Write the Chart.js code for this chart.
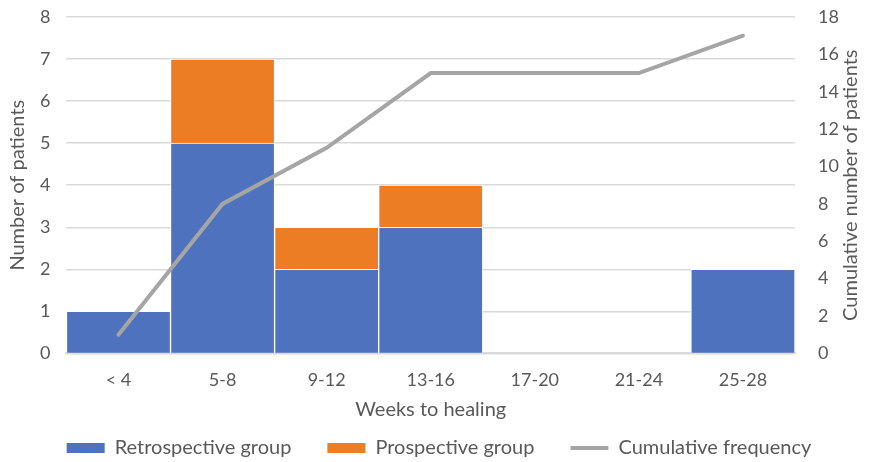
<!DOCTYPE html>
<html>
<head>
<meta charset="utf-8">
<script src="https://cdn.jsdelivr.net/npm/chart.js@4.4.1/dist/chart.umd.min.js"></script>
<style>
  html, body { margin: 0; padding: 0; background: #fff; }
  #wrap { width: 872px; height: 462px; }
</style>
</head>
<body>
<div id="wrap"><canvas id="chart" width="872" height="462"></canvas></div>
<script>
const weeks = ['< 4', '5-8', '9-12', '13-16', '17-20', '21-24', '25-28'];
const retrospective = [1, 5, 2, 3, 0, 0, 2];
const prospective = [0, 2, 1, 1, 0, 0, 0];
const cumulative = [1, 8, 11, 15, 15, 15, 17];

const textColor = '#595959';
const gridColor = '#d9d9d9';
const fontFamily = 'Lato, "Open Sans", sans-serif';

// right axis title reads bottom-to-top like the left one
const rightTitle = {
    id: 'rightTitle',
    afterDraw(chart) {
        const area = chart.chartArea;
        const c = chart.ctx;
        c.save();
        c.translate(851, (area.top + area.bottom) / 2);
        c.rotate(-Math.PI / 2);
        c.fillStyle = textColor;
        c.font = '20px ' + fontFamily;
        c.textAlign = 'center';
        c.textBaseline = 'middle';
        c.fillText('Cumulative number of patients', 0, 0);
        c.restore();
    },
};

const ctx = document.getElementById('chart').getContext('2d');
new Chart(ctx, {
    type: 'bar',
    data: {
        labels: weeks,
        datasets: [
            {
                type: 'line',
                label: 'Cumulative frequency',
                data: cumulative,
                yAxisID: 'y1',
                borderColor: '#a5a5a5',
                backgroundColor: '#a5a5a5',
                borderWidth: 4,
                borderCapStyle: 'round',
                pointRadius: 0,
                pointStyle: 'line',
                tension: 0,
                order: 0,
            },
            {
                label: 'Retrospective group',
                data: retrospective,
                backgroundColor: '#4f72bf',
                borderColor: '#ffffff',
                borderWidth: 1,
                pointStyle: 'rect',
                stack: 's',
                order: 1,
            },
            {
                label: 'Prospective group',
                data: prospective,
                backgroundColor: '#ed7d24',
                borderColor: '#ffffff',
                borderWidth: 1,
                pointStyle: 'rect',
                stack: 's',
                order: 1,
            },
        ],
    },
    options: {
        responsive: false,
        animation: false,
        layout: { padding: { left: 6, right: 0, top: 17, bottom: -6 } },
        datasets: {
            bar: { categoryPercentage: 1, barPercentage: 1 },
        },
        plugins: {
            tooltip: { enabled: false },
            legend: {
                position: 'bottom',
                align: 'center',
                labels: {
                    color: textColor,
                    font: { family: fontFamily, size: 20 },
                    usePointStyle: true,
                    pointStyleWidth: 38,
                    boxHeight: 10,
                    padding: 36,
                    sort: (a, b) => (a.datasetIndex === 0) - (b.datasetIndex === 0),
                    generateLabels: (chart) => {
                        const items = Chart.defaults.plugins.legend.labels.generateLabels(chart);
                        items.forEach((it) => {
                            if (it.datasetIndex !== 0) {
                                it.lineWidth = 0;
                                it.strokeStyle = it.fillStyle;
                            }
                        });
                        return items;
                    },
                },
            },
        },
        scales: {
            x: {
                stacked: true,
                grid: { display: false },
                border: { display: true, color: gridColor, width: 2 },
                ticks: { color: textColor, font: { family: fontFamily, size: 18 }, padding: 8 },
                title: {
                    display: true,
                    text: 'Weeks to healing',
                    color: textColor,
                    font: { family: fontFamily, size: 20 },
                    padding: { top: -1, bottom: -20 },
                },
            },
            y: {
                stacked: true,
                min: 0,
                max: 8,
                ticks: { stepSize: 1, color: textColor, font: { family: fontFamily, size: 18 }, padding: 16 },
                grid: { color: gridColor, lineWidth: 1.5, drawTicks: false },
                border: { display: false },
                title: {
                    display: true,
                    text: 'Number of patients',
                    color: textColor,
                    font: { family: fontFamily, size: 20 },
                    padding: { top: 0, bottom: -6 },
                },
                afterFit: (scale) => {
                    scale.paddingTop = 0;
                },
            },
            y1: {
                position: 'right',
                min: 0,
                max: 18,
                ticks: { stepSize: 2, color: textColor, font: { family: fontFamily, size: 18 }, padding: 23 },
                grid: { display: false, drawTicks: false },
                border: { display: false },
                afterFit: (scale) => {
                    scale.width = 77;
                    scale.paddingTop = 0;
                },
            },
        },
    },
    plugins: [rightTitle],
});
</script>
</body>
</html>
